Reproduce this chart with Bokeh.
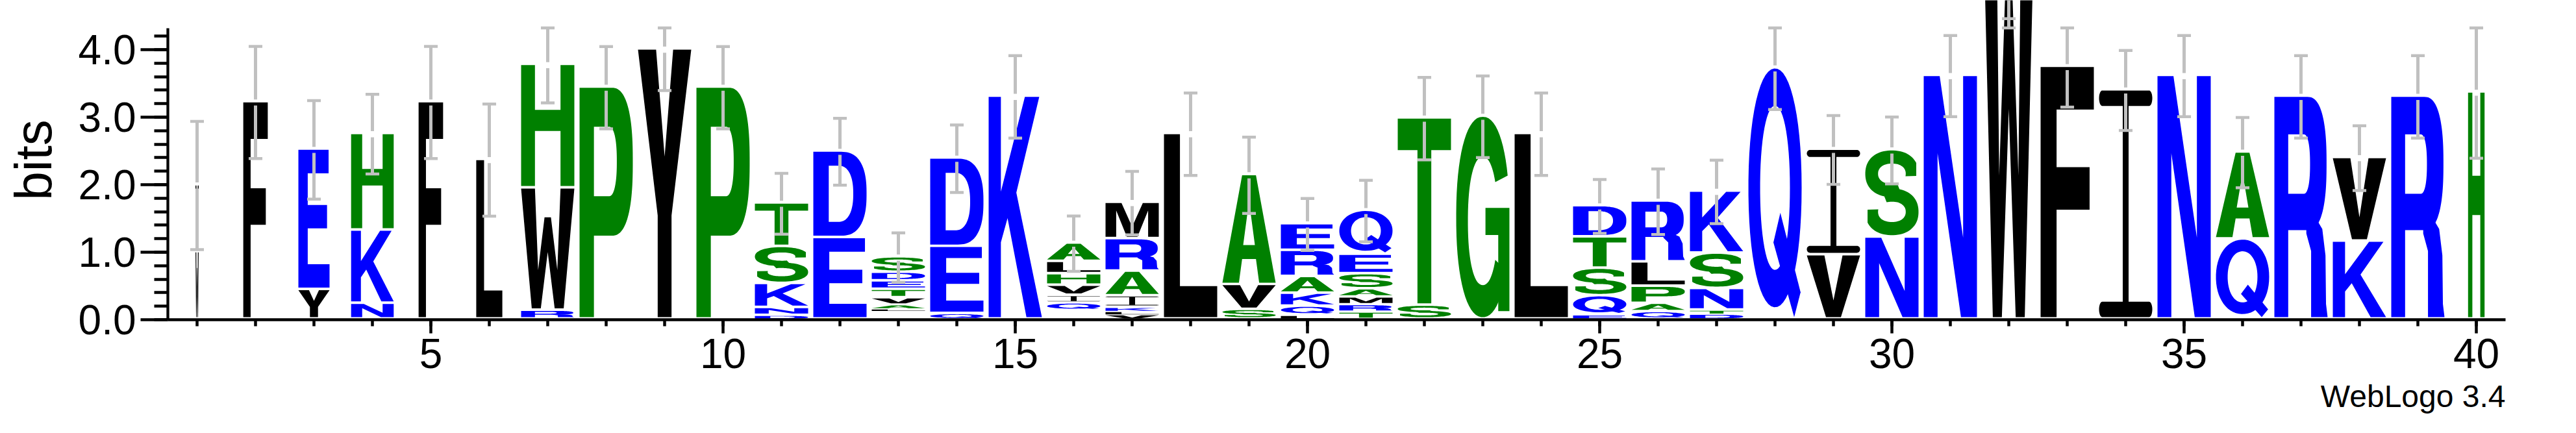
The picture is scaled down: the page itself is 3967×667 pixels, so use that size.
import numpy as np
from bokeh.plotting import figure
from bokeh.models import ColumnDataSource, SingleIntervalTicker, PrintfTickFormatter, Title, Range1d
from bokeh.embed import file_html
from bokeh.resources import INLINE

positions = list(range(1, 41))
# letters of each stack, listed bottom -> top
stack_letters = [
    "WM", "F", "YE", "NKH", "F", "L", "RWH", "P", "Y", "P",
    "DNKST", "ED", "LAVTEDS", "QED", "K", "QIVHLA", "VLKIARM", "L", "SVA", "LQKARE",
    "TRMASEQ", "ST", "G", "L", "EQSTD", "QAPLR", "DTNSK", "Q", "VI", "NS",
    "N", "W", "F", "I", "N", "QA", "R", "KV", "R", "H"]
# information content (bits) of each letter, bottom -> top
stack_bits = [
    [0.998, 0.990], [3.218], [0.438, 2.078], [0.233, 1.084, 1.431], [3.218],
    [2.364], [0.131, 1.812, 1.828], [3.436], [4.000], [3.436],
    [0.056, 0.115, 0.356, 0.548, 0.643], [1.207, 1.280],
    [0.030, 0.060, 0.103, 0.125, 0.125, 0.128, 0.228], [0.082, 0.994, 1.309], [3.300],
    [0.110, 0.113, 0.150, 0.170, 0.183, 0.272], [0.065, 0.048, 0.061, 0.170, 0.366, 0.480, 0.538],
    [2.748], [0.143, 0.368, 1.628], [0.056, 0.134, 0.193, 0.247, 0.387, 0.394],
    [0.104, 0.109, 0.115, 0.119, 0.224, 0.289, 0.650], [0.205, 2.773], [3.006], [2.748],
    [0.063, 0.282, 0.407, 0.465, 0.461], [0.111, 0.121, 0.254, 0.361, 0.901],
    [0.072, 0.061, 0.320, 0.523, 0.918], [3.722], [0.953, 1.562], [1.215, 1.292],
    [3.608], [6.600], [3.742], [3.395], [3.608], [1.186, 1.288], [3.300], [1.154, 1.239],
    [3.300], [3.362]]
# bits carried by letters too small to be drawn (bottom of the stack)
unresolved_bits = [0, 0, 0, 0, 0, 0, 0, 0, 0, 0,
                   0, 0, 0.122, 0, 0, 0.128, 0, 0, 0, 0,
                   0, 0, 0, 0, 0, 0, 0, 0, 0, 0,
                   0, 0, 0, 0, 0, 0, 0, 0, 0, 0]
# relative stack width (fraction of sequences present at the position)
stack_weight = [0.06, 0.46, 0.585, 0.80, 0.46, 0.49] + [1.0] * 33 + [0.31]
# error bar half-length (bits)
error_bits = [0.95, 0.83, 0.73, 0.59, 0.83, 0.83, 0.56, 0.61, 0.605, 0.61,
              0.45, 0.495, 0.365, 0.50, 0.61, 0.41, 0.47, 0.61, 0.565, 0.385,
              0.455, 0.61, 0.605, 0.61, 0.40, 0.485, 0.47, 0.61, 0.51, 0.495,
              0.60, 2.14, 0.593, 0.593, 0.60, 0.52, 0.61, 0.48, 0.61, 0.97]
y_labels_max = np.log2(20)

# hydrophobicity colour scheme
letter_colors = {}
for c in "RKDENQ":
    letter_colors[c] = "#0000ff"
for c in "SGHTAP":
    letter_colors[c] = "#008000"
for c in "YVMCLFIW":
    letter_colors[c] = "#000000"

# ---------------- glyph outlines (unit box, a simple bold sans font) ----------------
def arc(cx, cy, rx, ry, a0, a1, n=60, p=0.9):
    t = np.radians(np.linspace(a0, a1, n))
    c, s = np.cos(t), np.sin(t)
    x = cx + rx * np.sign(c) * np.abs(c) ** p
    y = cy + ry * np.sign(s) * np.abs(s) ** p
    return list(zip(x, y))


def rrect(x0, y0, x1, y1, rx, ry):
    pts = []
    pts += arc(x1 - rx, y0 + ry, rx, ry, -90, 0, 10, 1)
    pts += arc(x1 - rx, y1 - ry, rx, ry, 0, 90, 10, 1)
    pts += arc(x0 + rx, y1 - ry, rx, ry, 90, 180, 10, 1)
    pts += arc(x0 + rx, y0 + ry, rx, ry, 180, 270, 10, 1)
    return pts


GLYPHS = {
    "A": [[[(0, 0), (0.37, 1), (0.63, 1), (1, 0), (0.69, 0), (0.63, 0.22), (0.37, 0.22), (0.31, 0)],
           [(0.39, 0.35), (0.5, 0.76), (0.61, 0.35)]]],
    "D": [[[(0, 0), (0.52, 0)] + arc(0.52, 0.5, 0.48, 0.5, -90, 90, p=0.8) + [(0, 1)],
           [(0.29, 0.165), (0.47, 0.165)] + arc(0.47, 0.5, 0.28, 0.335, -90, 90, p=0.85) + [(0.29, 0.835)]]],
    "E": [[[(0, 0), (1, 0), (1, 0.17), (0.3, 0.17), (0.3, 0.43), (0.92, 0.43), (0.92, 0.6),
            (0.3, 0.6), (0.3, 0.83), (0.97, 0.83), (0.97, 1), (0, 1)]]],
    "F": [[[(0, 0), (0.3, 0), (0.3, 0.43), (0.92, 0.43), (0.92, 0.6), (0.3, 0.6), (0.3, 0.83),
            (1, 0.83), (1, 1), (0, 1)]]],
    "G": [[arc(0.5, 0.5, 0.5, 0.5, 22, 330) + arc(0.5, 0.48, 0.28, 0.32, 325, 35)],
          [[(0.55, 0.41), (0.55, 0.545), (1.0, 0.545), (1.0, 0.03), (0.79, 0.03), (0.79, 0.41)]]],
    "H": [[[(0, 0), (0.26, 0), (0.26, 0.455), (0.74, 0.455), (0.74, 0), (1, 0), (1, 1), (0.74, 1),
            (0.74, 0.63), (0.26, 0.63), (0.26, 1), (0, 1)]]],
    "I": [[rrect(0, 0.932, 1, 1, 0.06, 0.034)], [rrect(0, 0, 1, 0.068, 0.06, 0.034)],
          [[(0.445, 0.05), (0.555, 0.05), (0.555, 0.95), (0.445, 0.95)]]],
    "K": [[[(0, 0), (0.23, 0), (0.23, 0.34), (0.355, 0.45), (0.71, 0), (1, 0), (0.52, 0.565),
            (0.95, 1), (0.68, 1), (0.23, 0.57), (0.23, 1), (0, 1)]]],
    "L": [[[(0, 0), (1, 0), (1, 0.17), (0.3, 0.17), (0.3, 1), (0, 1)]]],
    "M": [[[(0, 0), (0.2, 0), (0.2, 0.78), (0.4, 0), (0.6, 0), (0.8, 0.78), (0.8, 0), (1, 0),
            (1, 1), (0.7, 1), (0.5, 0.3), (0.3, 1), (0, 1)]]],
    "N": [[[(0, 0), (0.26, 0), (0.26, 0.68), (0.7, 0), (1, 0), (1, 1), (0.74, 1), (0.74, 0.33),
            (0.3, 1), (0, 1)]]],
    "P": [[[(0, 0), (0.27, 0), (0.27, 0.355), (0.6, 0.355)] + arc(0.6, 0.6775, 0.4, 0.3225, -90, 90, p=0.8) + [(0, 1)],
           [(0.27, 0.527), (0.55, 0.527)] + arc(0.55, 0.6785, 0.15, 0.1515, -90, 90, p=0.85) + [(0.27, 0.83)]]],
    "Q": [[arc(0.5, 0.52, 0.5, 0.48, 0, 360, p=0.95), arc(0.5, 0.52, 0.28, 0.33, 360, 0, p=0.95)],
          [[(0.47, 0.3), (0.6, 0.42), (0.98, 0.1), (0.86, 0.0)]]],
    "R": [[[(0, 0), (0.26, 0), (0.26, 0.395), (0.62, 0.395)] + arc(0.62, 0.6975, 0.36, 0.3025, -90, 90, p=0.8) + [(0, 1)],
           [(0.26, 0.56), (0.55, 0.56)] + arc(0.55, 0.695, 0.12, 0.135, -90, 90, p=0.85) + [(0.26, 0.83)]],
          [[(0.69, 0), (1.0, 0), (0.97, 0.06), (0.96, 0.28), (0.9, 0.4), (0.78, 0.45), (0.6, 0.45),
            (0.6, 0.38), (0.69, 0.3)]]],
    "S": [[arc(0.5, 0.725, 0.5, 0.275, 25, 290) + arc(0.5, 0.725, 0.26, 0.12, 290, -12) + [(0.957, 0.70)]],
          [arc(0.5, 0.275, 0.5, 0.275, 205, 470) + arc(0.5, 0.275, 0.26, 0.12, 470, 168) + [(0.043, 0.30)]]],
    "T": [[[(0.37, 0), (0.63, 0), (0.63, 0.83), (1, 0.83), (1, 1), (0, 1), (0, 0.83), (0.37, 0.83)]]],
    "V": [[[(0, 1), (0.33, 1), (0.5, 0.27), (0.67, 1), (1, 1), (0.64, 0), (0.36, 0)]]],
    "W": [[[(0, 1), (0.26, 1), (0.32, 0.32), (0.44, 0.76), (0.56, 0.76), (0.68, 0.32), (0.74, 1),
            (1, 1), (0.8, 0), (0.63, 0), (0.5, 0.47), (0.37, 0), (0.2, 0)]]],
    "Y": [[[(0, 1), (0.34, 1), (0.5, 0.6), (0.66, 1), (1, 1), (0.63, 0.38), (0.63, 0), (0.37, 0),
            (0.37, 0.38)]]],
}


def signed_area(r):
    x = np.array([q[0] for q in r])
    y = np.array([q[1] for q in r])
    return 0.5 * np.sum(x * np.roll(y, -1) - np.roll(x, -1) * y)


def orient(r, ccw):
    if (signed_area(r) > 0) != ccw:
        return r[::-1]
    return r


# ---------------- build letter polygons through data coordinates ----------------
xs, ys, cols = [], [], []
tops = []
for i, pos in enumerate(positions):
    width = 0.911 * stack_weight[i]
    y0 = unresolved_bits[i]
    for ch, h in zip(stack_letters[i], stack_bits[i]):
        gap = min(0.038, 0.3 * h)
        bottom = y0 + gap
        hh = h - gap
        for poly in GLYPHS[ch]:
            rx, ry = [], []
            for k, ring in enumerate(poly):
                ring = orient(ring, k == 0)
                rx.append([pos - width / 2 + u * width for u, v in ring])
                ry.append([bottom + v * hh for u, v in ring])
            xs.append([rx])
            ys.append([ry])
            cols.append(letter_colors[ch])
        y0 += h
    tops.append(y0)

letters_src = ColumnDataSource(dict(xs=xs, ys=ys, color=cols))

# error bars
g = 0.045
cap = 0.117
eb = dict(x=[], lo=[], lo_end=[], hi_start=[], hi=[], cx0=[], cx1=[])
for pos, t, e in zip(positions, tops, error_bits):
    lo = t - e
    hi = min(t + e, y_labels_max)
    eb["x"].append(pos)
    eb["lo"].append(lo)
    eb["lo_end"].append(t - g)
    eb["hi_start"].append(t + g)
    eb["hi"].append(hi)
    eb["cx0"].append(pos - cap)
    eb["cx1"].append(pos + cap)
eb_src = ColumnDataSource(eb)

# ---------------- figure ----------------
px_per_bit = 104.0
frame_h = 492
p = figure(frame_width=3600, frame_height=frame_h,
           x_range=Range1d(0.5, 40.5), y_range=Range1d(0, frame_h / px_per_bit),
           output_backend="svg", toolbar_location=None,
           min_border_left=258, min_border_right=93, min_border_top=0, min_border_bottom=100)
p.grid.visible = False
p.outline_line_color = None
p.background_fill_color = "white"
p.border_fill_color = "white"

p.multi_polygons(xs="xs", ys="ys", fill_color="color", line_color=None, source=letters_src)

err_col = "#c0c0c0"
p.segment(x0="x", y0="lo", x1="x", y1="lo_end", line_color=err_col, line_width=5, source=eb_src)
p.segment(x0="x", y0="hi_start", x1="x", y1="hi", line_color=err_col, line_width=5, source=eb_src)
p.segment(x0="cx0", y0="lo", x1="cx1", y1="lo", line_color=err_col, line_width=4.5, source=eb_src)
p.segment(x0="cx0", y0="hi", x1="cx1", y1="hi", line_color=err_col, line_width=4.5, source=eb_src)

font = "Liberation Sans"
xa = p.xaxis[0]
xa.ticker = SingleIntervalTicker(interval=5, num_minor_ticks=5)
xa.major_tick_out = 21
xa.major_tick_in = 0
xa.minor_tick_out = 10
xa.minor_tick_in = 0
xa.axis_line_width = 4.3
xa.major_tick_line_width = 4.5
xa.minor_tick_line_width = 4.5
xa.major_label_text_font = font
xa.major_label_text_font_size = "64px"
xa.major_label_text_color = "black"
xa.major_label_standoff = 8

ya = p.yaxis[0]
ya.ticker = SingleIntervalTicker(interval=1, num_minor_ticks=5)
ya.formatter = PrintfTickFormatter(format="%.1f")
ya.bounds = (0, y_labels_max)
ya.major_tick_out = 42
ya.major_tick_in = 0
ya.minor_tick_out = 21
ya.minor_tick_in = 0
ya.axis_line_width = 4.3
ya.major_tick_line_width = 4.3
ya.minor_tick_line_width = 4.3
ya.major_label_text_font = font
ya.major_label_text_font_size = "64px"
ya.major_label_text_color = "black"
ya.major_label_standoff = 7
ya.axis_label = "bits"
ya.axis_label_text_font = font
ya.axis_label_text_font_size = "80px"
ya.axis_label_text_font_style = "normal"
ya.axis_label_text_color = "black"
ya.axis_label_standoff = 22

p.add_layout(Title(text="WebLogo 3.4", align="right", text_font=font, text_font_size="48px",
                   text_font_style="normal", text_color="black", standoff=24, offset=0), "below")

open("out.html", "w").write(file_html(p, INLINE))
